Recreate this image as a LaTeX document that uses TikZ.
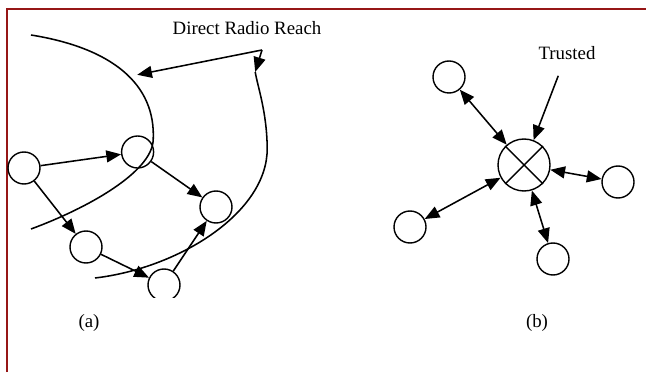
\documentclass[tikz,border=0pt]{standalone}
\usepackage{fontspec}
\setmainfont{Liberation Serif}
\usetikzlibrary{arrows.meta,calc}

\definecolor{framered}{RGB}{150,22,22}

\tikzset{
    host/.style={circle, draw, line width=1pt, minimum size=0.8cm, inner sep=0pt},
    trust/.style={circle, draw, line width=1pt, minimum size=1.3cm, inner sep=0pt},
    link/.style={line width=1.1pt, -{Triangle[length=10.5pt,width=8.5pt]}},
    duplex/.style={line width=1.1pt, {Triangle[length=10.5pt,width=8.5pt]}-{Triangle[length=10.5pt,width=8.5pt]}},
    reach/.style={line width=1.1pt},
    lbl/.style={font=\fontsize{13.4}{16}\selectfont}
}

\begin{document}
\begin{tikzpicture}

    \useasboundingbox (0,0) rectangle (16.15,9.3);

    % page frame
    \draw[framered, line width=1.5pt] (0.175,0) -- (0.175,9.075) -- (4.0,9.075);
    \draw[framered, line width=0.8pt] (4.0,9.075) -- (16.15,9.075);

    % (a) multi-hop network
    \node[host] (a1) at (0.60,5.10) {};
    \node[host] (a2) at (3.44,5.50) {};
    \node[host] (a3) at (5.40,4.125) {};
    \node[host] (a4) at (2.15,3.125) {};
    \node[host, draw=none] (a5) at (4.10,2.175) {};
    \begin{scope}
        \clip (3.5,1.85) rectangle (4.7,2.8);
        \draw[line width=1pt] (a5) circle (0.4);
    \end{scope}

    \draw[link] (a1) -- (a2);
    \draw[link] (a2) -- (a3);
    \draw[link] (a1) -- (a4);
    \draw[link] (a4) -- (a5);
    \draw[link] (a5) -- (a3);

    % radio range boundaries
    \draw[reach] (0.775,8.425) .. controls (2.8,8.1) and (3.9,7.2) .. (3.83,5.8)
        .. controls (3.8,5.0) and (2.2,4.1) .. (0.775,3.575);
    \draw[reach] (2.375,2.35) .. controls (4.5,2.6) and (6.7,4.0) .. (6.68,5.6)
        .. controls (6.67,6.5) and (6.45,7.1) .. (6.38,7.5) coordinate (rangeR);
    \coordinate (rangeL) at (3.43,7.43);

    \node[lbl] (radio) at (6.175,8.6) {Direct Radio Reach};
    \coordinate (fork) at (6.55,8.05);
    \draw[link] (fork) -- (rangeL);
    \draw[link] (fork) -- (rangeR);

    \node[lbl] (capa) at (2.225,1.225) {(a)};

    % (b) star around the trusted node
    \node[trust] (tc) at (13.1,5.175) {};
    \draw[line width=1pt] (tc.north west) -- (tc.south east);
    \draw[line width=1pt] (tc.north east) -- (tc.south west);

    \node[host] (b1) at (11.225,7.375) {};
    \node[host] (b2) at (15.45,4.75) {};
    \node[host] (b3) at (10.25,3.625) {};
    \node[host] (b4) at (13.825,2.825) {};

    \draw[duplex] (b1) -- (tc);
    \draw[duplex] (b2) -- (tc);
    \draw[duplex] (b3) -- (tc);
    \draw[duplex] (b4) -- (tc);

    \node[lbl] (trusted) at (14.175,7.975) {Trusted};
    \draw[link, shorten <=0.3cm] (trusted) -- (tc);

    \node[lbl] (capb) at (13.425,1.225) {(b)};

\end{tikzpicture}
\end{document}
